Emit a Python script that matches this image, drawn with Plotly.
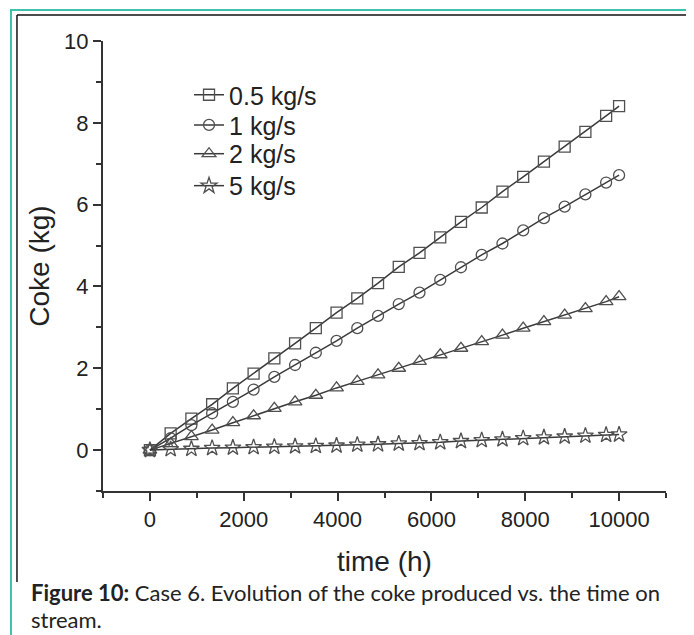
import plotly.graph_objects as go

# time on stream (h)
time_h = [0, 442, 884, 1326, 1768, 2210, 2652, 3094, 3536, 3978, 4420, 4862,
          5304, 5746, 6188, 6630, 7072, 7514, 7956, 8398, 8840, 9282, 9724, 10000]

# coke produced (kg) for each flow rate
coke_05 = [0, 0.41, 0.77, 1.12, 1.51, 1.87, 2.24, 2.61, 2.98, 3.36, 3.71, 4.08,
           4.48, 4.82, 5.20, 5.58, 5.93, 6.32, 6.68, 7.05, 7.42, 7.78, 8.17, 8.41]
coke_1 = [0, 0.29, 0.61, 0.90, 1.18, 1.48, 1.79, 2.08, 2.38, 2.67, 2.98, 3.28,
          3.57, 3.85, 4.16, 4.47, 4.77, 5.05, 5.37, 5.67, 5.95, 6.25, 6.54, 6.72]
coke_2 = [0, 0.16, 0.33, 0.49, 0.67, 0.84, 1.02, 1.18, 1.34, 1.52, 1.68, 1.84,
          2.00, 2.17, 2.33, 2.49, 2.65, 2.81, 2.98, 3.14, 3.30, 3.46, 3.63, 3.75]
coke_5 = [0, 0.02, 0.03, 0.05, 0.06, 0.07, 0.08, 0.09, 0.10, 0.11, 0.13, 0.14,
          0.16, 0.17, 0.19, 0.22, 0.24, 0.26, 0.29, 0.31, 0.33, 0.35, 0.37, 0.38]

series_names = ['0.5 kg/s', '1 kg/s', '2 kg/s', '5 kg/s']
series_vals = [coke_05, coke_1, coke_2, coke_5]
symbols = ['square-open', 'circle-open', 'triangle-up-open', 'star-open']
sizes = [11, 11, 12, 12]
legend_ids = ['legend', 'legend2', 'legend3', 'legend4']
legend_y = [0.880, 0.813, 0.749, 0.678]

fig = go.Figure()
for name, vals, sym, sz, lg in zip(series_names, series_vals, symbols, sizes, legend_ids):
    fig.add_trace(go.Scatter(
        x=time_h, y=vals, name=name, mode='lines+markers', legend=lg,
        line=dict(color='#3a3a3a', width=1.5),
        marker=dict(symbol=sym, size=sz, color='#505050',
                    line=dict(color='#505050', width=1.3))))

arial = 'Liberation Sans, Arial, sans-serif'
axis_font = dict(family=arial, size=22, color='#222222')
title_font = dict(family=arial, size=28, color='#222222')

fig.update_xaxes(range=[-1000, 11000], tick0=0, dtick=2000, tickformat='d',
                 ticks='outside', ticklen=8, tickwidth=2, tickcolor='#333333',
                 showline=True, linewidth=2, linecolor='#333333',
                 showgrid=False, zeroline=False, tickfont=axis_font,
                 minor=dict(dtick=1000, tick0=1000, ticks='outside', ticklen=5,
                            tickwidth=2, tickcolor='#333333'),
                 title=dict(text='time (h)', standoff=20, font=title_font))
fig.update_yaxes(range=[-1, 10], tick0=0, dtick=2, tickformat='d',
                 ticks='outside', ticklen=8, tickwidth=2, tickcolor='#333333',
                 showline=True, linewidth=2, linecolor='#333333',
                 showgrid=False, zeroline=False, tickfont=axis_font,
                 minor=dict(dtick=1, tick0=1, ticks='outside', ticklen=5,
                            tickwidth=2, tickcolor='#333333'),
                 title=dict(text='Coke (kg)', standoff=6, font=title_font))

# page body adds an 8px offset, so the figure is 8px smaller and
# paper positions below are measured against the plot area
teal = '#3fc2ab'
shapes = [
    dict(type='rect', xref='paper', yref='paper', x0=-0.1634, x1=1.0444,
         y0=-0.40, y1=1.0689, line=dict(color=teal, width=2)),
    dict(type='line', xref='paper', yref='paper', x0=-0.1528, x1=-0.1528,
         y0=-0.2022, y1=1.0578, line=dict(color='#111111', width=1.5)),
    dict(type='line', xref='paper', yref='paper', x0=-0.1528, x1=1.037,
         y0=1.0578, y1=1.0578, line=dict(color='#111111', width=1.5)),
]

cap_font = dict(family='Lato, Open Sans, sans-serif', size=22, color='#222222')
annotations = [
    dict(xref='paper', yref='paper', x=-0.1315, y=-0.226, xanchor='left', yanchor='middle',
         showarrow=False, font=cap_font,
         text='<b>Figure 10:</b> Case 6. Evolution of the coke produced vs. the time on'),
    dict(xref='paper', yref='paper', x=-0.1315, y=-0.285, xanchor='left', yanchor='middle',
         showarrow=False, font=cap_font, text='stream.'),
]

legend_style = dict(x=0.1528, xanchor='left', yanchor='middle',
                    bgcolor='rgba(0,0,0,0)', borderwidth=0,
                    font=dict(family=arial, size=25, color='#222222'))

fig.update_layout(
    width=686, height=627,
    margin=dict(l=95, r=28, t=33, b=144),
    paper_bgcolor='white', plot_bgcolor='white',
    shapes=shapes, annotations=annotations,
    legend=dict(legend_style, y=legend_y[0]),
    legend2=dict(legend_style, y=legend_y[1]),
    legend3=dict(legend_style, y=legend_y[2]),
    legend4=dict(legend_style, y=legend_y[3]),
    showlegend=True,
)

fig.write_html('out.html')
